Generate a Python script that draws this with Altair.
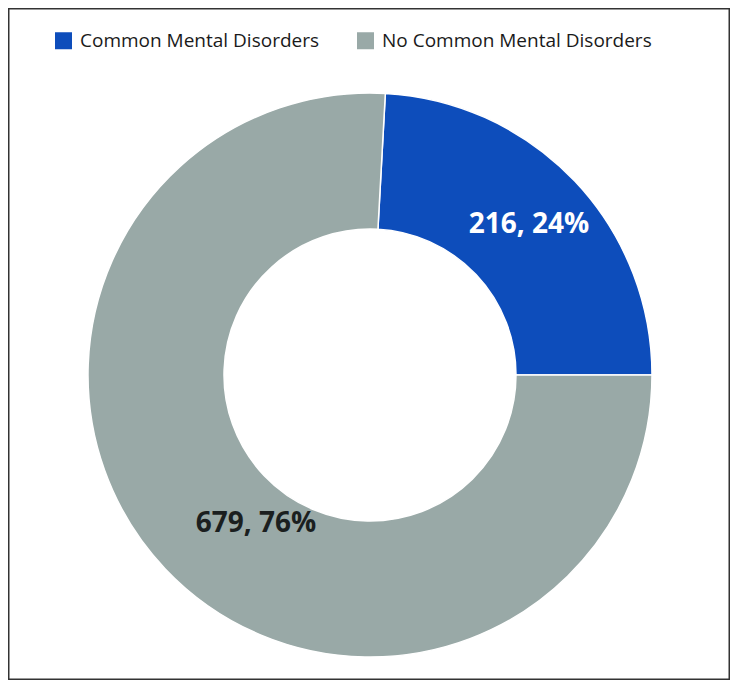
import math
import altair as alt
import pandas as pd

categories = ["Common Mental Disorders", "No Common Mental Disorders"]
counts = [216, 679]
percents = [24, 76]
colors = ["#0D4DBB", "#99A9A7"]

df = pd.DataFrame({
    "category": categories,
    "count": counts,
    "label": [f"{c}, {p}%" for c, p in zip(counts, percents)],
    "order": [0, 1],
})

total = sum(counts)
start = math.pi / 2 - 2 * math.pi * counts[0] / total

CX, CY = 362, 367

base = alt.Chart(df)

arcs = base.mark_arc(outerRadius=282, innerRadius=146, stroke="white", strokeWidth=1.5).encode(
    theta=alt.Theta("count:Q", stack=True,
                    scale=alt.Scale(range=[start, start + 2 * math.pi])),
    color=alt.Color(
        "category:N",
        scale=alt.Scale(domain=categories, range=colors),
        legend=alt.Legend(
            title=None, orient="none", direction="horizontal",
            legendX=46, legendY=23,
            symbolType="square", symbolSize=289, symbolStrokeWidth=0,
            labelFont="Open Sans", labelFontSize=19, labelColor="#1a1a1a",
            labelOffset=7, columnPadding=36, labelLimit=400, padding=0,
        ),
    ),
    order=alt.Order("order:Q"),
    x=alt.value(CX), y=alt.value(CY),
)

lab1 = base.transform_filter(alt.datum.order == 0).mark_text(
    font="Open Sans", fontSize=28, fontWeight="bold", color="white",
    align="center", baseline="alphabetic", x=521, y=225,
).encode(text="label:N")

lab2 = base.transform_filter(alt.datum.order == 1).mark_text(
    font="Open Sans", fontSize=28, fontWeight="bold", color="#1b1f1f",
    align="center", baseline="alphabetic", x=248, y=524,
).encode(text="label:N")

border = alt.Chart(pd.DataFrame({"a": [0]})).mark_rect(
    fill=None, stroke="#333333", strokeWidth=1.5
).encode(x=alt.value(0.75), x2=alt.value(721.25), y=alt.value(0.75), y2=alt.value(671.25))

chart = alt.layer(border, arcs, lab1, lab2).properties(
    width=722, height=672, padding=0, autosize=alt.AutoSizeParams(type="none"),
).configure_view(stroke=None)

chart.save("out.html", embed_options={"renderer": "svg", "actions": False})
